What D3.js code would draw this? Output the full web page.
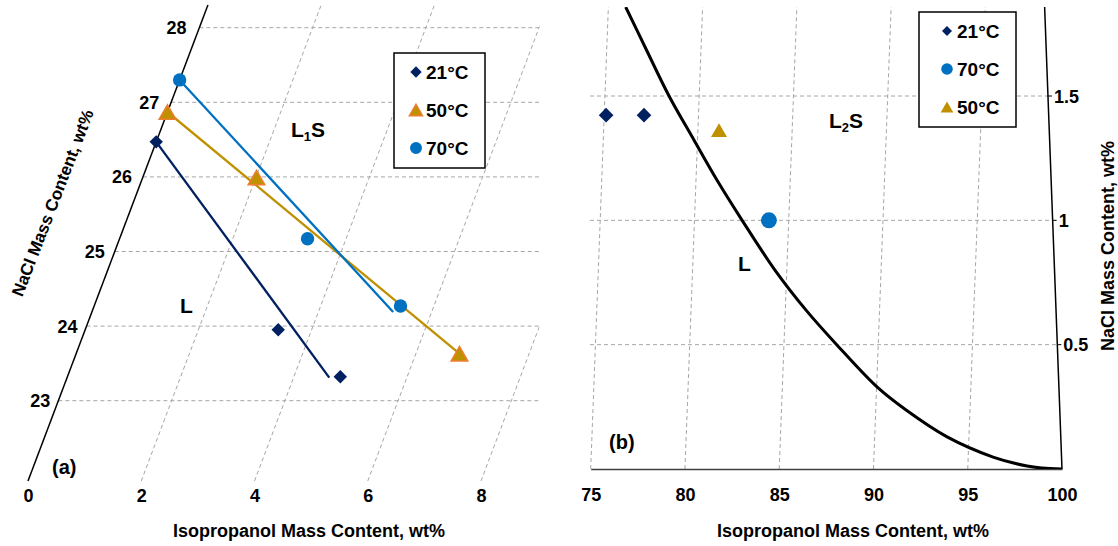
<!DOCTYPE html>
<html><head><meta charset="utf-8">
<script src="https://cdn.jsdelivr.net/npm/d3@7"></script>
<style>
body{margin:0;background:#fff;}
text{font-family:"Liberation Sans",Arial,sans-serif;font-weight:bold;fill:#000;}
</style></head><body>
<svg id="chart" width="1118" height="546"></svg>
<script>
// ---------------- Panel (a) data ----------------
const a21Iso = [0, 3.41, 4.82];
const a21NaCl = [26.47, 23.95, 23.32];
const a50Iso = [0, 2.01, 6.77];
const a50NaCl = [26.87, 25.99, 23.63];
const a70Iso = [0, 3.32, 5.41];
const a70NaCl = [27.30, 25.17, 24.27];
const a21LineIso = [0, 4.63], a21LineNaCl = [26.47, 23.31];
const a50LineIso = [0, 6.77], a50LineNaCl = [26.87, 23.63];
const a70LineIso = [0, 5.32], a70LineNaCl = [27.30, 24.19];
const aIsoTicks = [0, 2, 4, 6, 8];
const aNaClTicks = [23, 24, 25, 26, 27, 28];
const aLegend = ["21°C", "50°C", "70°C"];

// ---------------- Panel (b) data ----------------
const b21Iso = [75.10, 77.11], b21NaCl = [1.423, 1.423];
const b70Iso = [83.95], b70NaCl = [1.0];
const b50Iso = [81.12], b50NaCl = [1.363];
const bCurveIso = [75.92, 77.11, 78.40, 79.81, 81.11, 82.52, 84.37, 86.10, 87.76, 90.02, 91.61, 93.84, 96.32, 98.14, 98.94, 100];
const bCurveNaCl = [1.858, 1.685, 1.500, 1.323, 1.162, 1.001, 0.800, 0.639, 0.503, 0.330, 0.237, 0.129, 0.048, 0.012, 0.004, 0];
const bIsoTicks = [75, 80, 85, 90, 95, 100];
const bNaClTicks = [0.5, 1, 1.5];
const bLegend = ["21°C", "70°C", "50°C"];

const xTitle = "Isopropanol Mass Content, wt%";
const yTitle = "NaCl Mass Content, wt%";

const NAVY = "#002060", BLUE = "#0070C0", GOLD = "#BF9000", ORANGE = "#ED7D31", GRID = "#A6A6A6";
const svg = d3.select("#chart");
const defs = svg.append("defs");

function drawMarker(g, kind, x, y, size, fill, stroke){
  if (kind === "diamond") {
    g.append("path").attr("d", d3.symbol().type(d3.symbolSquare).size(size)())
      .attr("transform", `translate(${x},${y}) rotate(45)`).attr("fill", fill);
  } else if (kind === "circle") {
    g.append("path").attr("d", d3.symbol().type(d3.symbolCircle).size(size)())
      .attr("transform", `translate(${x},${y})`).attr("fill", fill);
  } else {
    const s = Math.sqrt(4 * size / Math.sqrt(3));
    const h = s * Math.sqrt(3) / 2;
    g.append("path").attr("d", d3.symbol().type(d3.symbolTriangle).size(size)())
      .attr("transform", `translate(${x},${y + h / 6})`).attr("fill", fill)
      .attr("stroke", stroke || "none").attr("stroke-width", stroke ? 1.5 : 0);
  }
}

// ================= Panel (a) =================
const aBaseY = 481, aTopY = 5, aRightX = 539.5;
const yA = d3.scaleLinear().domain([23, 28]).range([400.7, 27.7]);
const xA = d3.scaleLinear().domain([0, 8]).range([28, 481]);
const slantA = 0.378;
const nBotA = yA.invert(aBaseY), nTopA = yA.invert(aTopY);
const pA = (i, n) => [xA(i) + slantA * (aBaseY - yA(n)), yA(n)];

defs.append("clipPath").attr("id", "clipA").append("rect")
  .attr("x", 0).attr("y", aTopY).attr("width", aRightX).attr("height", aBaseY - aTopY);

const gA = svg.append("g");
const gridA = gA.append("g").attr("clip-path", "url(#clipA)")
  .attr("stroke", GRID).attr("stroke-width", 1).attr("stroke-dasharray", "4,3").attr("fill", "none");
aNaClTicks.forEach(n => {
  const p = pA(0, n);
  gridA.append("line").attr("x1", p[0]).attr("y1", p[1]).attr("x2", aRightX).attr("y2", p[1]);
});
aIsoTicks.filter(i => i > 0).forEach(i => {
  const p0 = pA(i, nBotA), p1 = pA(i, nTopA);
  gridA.append("line").attr("x1", p0[0]).attr("y1", p0[1]).attr("x2", p1[0]).attr("y2", p1[1]);
});

{
  const p0 = pA(0, nBotA), p1 = pA(0, nTopA);
  gA.append("line").attr("x1", p0[0]).attr("y1", p0[1]).attr("x2", p1[0]).attr("y2", p1[1])
    .attr("stroke", "#000").attr("stroke-width", 1.5);
}
aNaClTicks.forEach(n => {
  const y = yA(n);
  gA.append("text").attr("x", xA(0) + 0.365 * (aBaseY - y) - 7).attr("y", y + 6.5)
    .attr("text-anchor", "end").attr("font-size", 18).text(n);
});
const axA = gA.append("g").attr("transform", `translate(0,${aBaseY})`)
  .call(d3.axisBottom(xA).tickValues(aIsoTicks).tickSize(0).tickPadding(8));
axA.select(".domain").remove();
axA.selectAll("text").attr("font-size", 18).attr("font-family", null).attr("fill", "#000");

const lineA = d3.line().x(d => d[0]).y(d => d[1]);
function tie(isoArr, naclArr, color){
  gA.append("path").attr("d", lineA(isoArr.map((v, k) => pA(v, naclArr[k]))))
    .attr("fill", "none").attr("stroke", color).attr("stroke-width", 2.3);
}
tie(a21LineIso, a21LineNaCl, NAVY);
tie(a50LineIso, a50LineNaCl, GOLD);
tie(a70LineIso, a70LineNaCl, BLUE);

a21Iso.forEach((v, k) => { const p = pA(v, a21NaCl[k]); drawMarker(gA, "diamond", p[0], p[1], 90, NAVY); });
a50Iso.forEach((v, k) => { const p = pA(v, a50NaCl[k]); drawMarker(gA, "triangle", p[0], p[1], 120, GOLD, ORANGE); });
a70Iso.forEach((v, k) => { const p = pA(v, a70NaCl[k]); drawMarker(gA, "circle", p[0], p[1], 141, BLUE); });

gA.append("text").attr("x", 291).attr("y", 137).attr("font-size", 21)
  .html('L<tspan font-size="13" dy="4">1</tspan><tspan dy="-4" font-size="21">S</tspan>');
gA.append("text").attr("x", 180).attr("y", 313).attr("font-size", 21).text("L");
gA.append("text").attr("x", 52).attr("y", 474).attr("font-size", 20).text("(a)");

gA.append("text").attr("transform", "translate(53,203) rotate(-68.8)")
  .attr("text-anchor", "middle").attr("dominant-baseline", "central").attr("font-size", 17).text(yTitle);
gA.append("text").attr("x", 309).attr("y", 537).attr("text-anchor", "middle").attr("font-size", 18).text(xTitle);

{
  const lg = gA.append("g");
  lg.append("rect").attr("x", 394).attr("y", 53).attr("width", 91).attr("height", 115)
    .attr("fill", "#fff").attr("stroke", "#000").attr("stroke-width", 1.5);
  const kinds = ["diamond", "triangle", "circle"];
  const cols = [NAVY, GOLD, BLUE];
  const sizes = [64, 75, 113];
  aLegend.forEach((t, k) => {
    const y = 72 + k * 38;
    drawMarker(lg, kinds[k], 416, y, sizes[k], cols[k], kinds[k] === "triangle" ? ORANGE : null);
    lg.append("text").attr("x", 426).attr("y", y + 6.8).attr("font-size", 19).text(t);
  });
}

// ================= Panel (b) =================
const bBaseY = 469, bTopY = 7, bLeftX = 590;
const yB = d3.scaleLinear().domain([0, 1.5]).range([469, 96]);
const xB = d3.scaleLinear().domain([75, 100]).range([590.7, 1062]);
const skewB = 0.0382;
const nTopB = yB.invert(bTopY);
const pB = (i, n) => [xB(i) + skewB * (bBaseY - yB(n)), yB(n)];

defs.append("clipPath").attr("id", "clipB").append("rect")
  .attr("x", bLeftX).attr("y", bTopY).attr("width", 1118 - bLeftX).attr("height", bBaseY - bTopY);

const gB = svg.append("g");
const gridB = gB.append("g").attr("clip-path", "url(#clipB)")
  .attr("stroke", GRID).attr("stroke-width", 1).attr("stroke-dasharray", "4,3").attr("fill", "none");
bNaClTicks.forEach(n => {
  const p = pB(100 - n, n);
  gridB.append("line").attr("x1", bLeftX).attr("y1", p[1]).attr("x2", p[0]).attr("y2", p[1]);
});
bIsoTicks.filter(i => i < 100).forEach(i => {
  const p0 = pB(i, 0), p1 = pB(i, nTopB);
  gridB.append("line").attr("x1", p0[0]).attr("y1", p0[1]).attr("x2", p1[0]).attr("y2", p1[1]);
});

const axB = gB.append("g").attr("transform", `translate(0,${bBaseY})`)
  .call(d3.axisBottom(xB).tickValues(bIsoTicks).tickSize(0).tickPadding(19));
axB.select(".domain").attr("stroke", "#404040").attr("stroke-width", 1.5);
axB.selectAll("text").attr("font-size", 18).attr("font-family", null).attr("fill", "#000");

{
  const p0 = pB(100, 0), p1 = pB(100 - nTopB, nTopB);
  gB.append("line").attr("x1", p0[0]).attr("y1", p0[1]).attr("x2", p1[0]).attr("y2", p1[1])
    .attr("stroke", "#000").attr("stroke-width", 1.5);
  bNaClTicks.forEach(n => {
    const p = pB(100 - n, n);
    gB.append("line").attr("x1", p[0]).attr("y1", p[1]).attr("x2", p[0] + 4).attr("y2", p[1])
      .attr("stroke", "#000").attr("stroke-width", 1);
    gB.append("text").attr("x", p[0] + 6).attr("y", p[1] + 6.5).attr("font-size", 18).text(n);
  });
}

gB.append("path").attr("clip-path", "url(#clipB)")
  .attr("d", d3.line().curve(d3.curveCatmullRom.alpha(0.5))(bCurveIso.map((v, k) => pB(v, bCurveNaCl[k]))))
  .attr("fill", "none").attr("stroke", "#000").attr("stroke-width", 3);

b21Iso.forEach((v, k) => { const p = pB(v, b21NaCl[k]); drawMarker(gB, "diamond", p[0], p[1], 107, NAVY); });
b50Iso.forEach((v, k) => { const p = pB(v, b50NaCl[k]); drawMarker(gB, "triangle", p[0], p[1], 111, GOLD); });
b70Iso.forEach((v, k) => { const p = pB(v, b70NaCl[k]); drawMarker(gB, "circle", p[0], p[1], 201, BLUE); });

gB.append("text").attr("x", 829).attr("y", 128).attr("font-size", 21)
  .html('L<tspan font-size="13" dy="4">2</tspan><tspan dy="-4" font-size="21">S</tspan>');
gB.append("text").attr("x", 738).attr("y", 271).attr("font-size", 21).text("L");
gB.append("text").attr("x", 609).attr("y", 449).attr("font-size", 20).text("(b)");

gB.append("text").attr("transform", "translate(1114,246) rotate(-90)")
  .attr("text-anchor", "middle").attr("font-size", 18).text(yTitle);
gB.append("text").attr("x", 853).attr("y", 537).attr("text-anchor", "middle").attr("font-size", 18).text(xTitle);

{
  const lg = gB.append("g");
  lg.append("rect").attr("x", 919).attr("y", 12).attr("width", 97).attr("height", 115)
    .attr("fill", "#fff").attr("stroke", "#000").attr("stroke-width", 1.5);
  const kinds = ["diamond", "circle", "triangle"];
  const cols = [NAVY, BLUE, GOLD];
  const sizes = [50, 106, 70];
  bLegend.forEach((t, k) => {
    const y = 31 + k * 38;
    drawMarker(lg, kinds[k], 947, y, sizes[k], cols[k]);
    lg.append("text").attr("x", 957).attr("y", y + 6.8).attr("font-size", 19).text(t);
  });
}
</script>
</body></html>
